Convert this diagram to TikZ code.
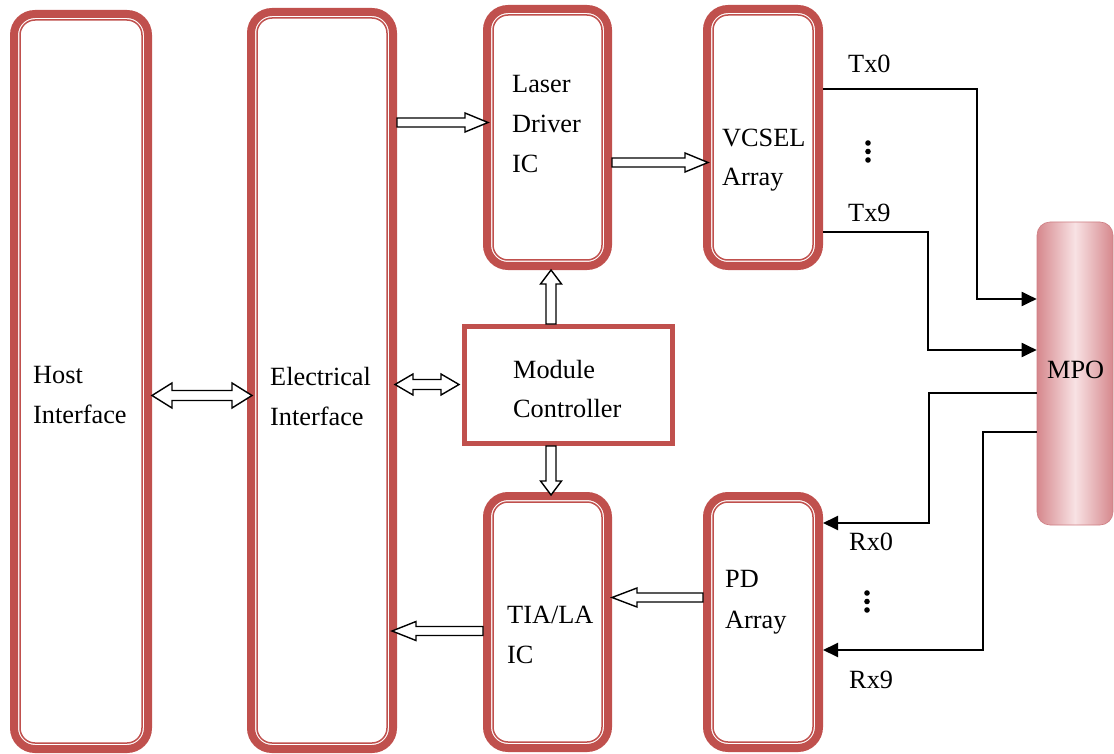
\documentclass[tikz,border=0pt]{standalone}
\usepackage{fontspec}
\setmainfont{Liberation Serif}
\usetikzlibrary{calc,arrows.meta}
\definecolor{boxred}{RGB}{192,80,77}
\definecolor{mpoedge}{RGB}{214,136,141}
\definecolor{mpomid}{RGB}{248,226,228}
\definecolor{mpoline}{RGB}{206,126,131}
\tikzset{
  dbox/.style={draw=boxred, line width=8pt, rounded corners=21pt, fill=white},
  innerline/.style={draw=boxred, line width=1.5pt, rounded corners=15pt},
  mcbox/.style={draw=boxred, line width=5pt, fill=white},
  mpobox/.style={draw=mpoline, line width=0.6pt, rounded corners=13pt, left color=mpoedge, right color=mpoedge, middle color=mpomid},
  lbl/.style={anchor=base west, inner sep=0pt, font=\fontsize{26.3pt}{30pt}\selectfont},
  sig/.style={line width=1.9pt, -{Triangle[length=15pt,width=14pt]}},
  dot/.style={fill=black},
  arw/.code args={#1/#2/#3}{\def\arS{#1pt}\def\arH{#2pt}\def\arL{#3pt}},
  arw=5/10/22,
  blk/.style={draw=black, fill=white, line width=1.4pt, line join=miter},
  barrow/.style={blk, to path={let \p1=(\tikztostart), \p2=(\tikztotarget),
      \n1={atan2((\y2)-(\y1),(\x2)-(\x1))} in
      ([shift={(\n1+90:\arS)}]\p1)
      -- ([shift={(\n1+180:\arL)},shift={(\n1+90:\arS)}]\p2)
      -- ([shift={(\n1+180:\arL)},shift={(\n1+90:\arH)}]\p2)
      -- (\p2)
      -- ([shift={(\n1+180:\arL)},shift={(\n1-90:\arH)}]\p2)
      -- ([shift={(\n1+180:\arL)},shift={(\n1-90:\arS)}]\p2)
      -- ([shift={(\n1-90:\arS)}]\p1) -- cycle}},
  barrowtwo/.style={blk, to path={let \p1=(\tikztostart), \p2=(\tikztotarget),
      \n1={atan2((\y2)-(\y1),(\x2)-(\x1))} in
      (\p1)
      -- ([shift={(\n1:\arL)},shift={(\n1+90:\arH)}]\p1)
      -- ([shift={(\n1:\arL)},shift={(\n1+90:\arS)}]\p1)
      -- ([shift={(\n1+180:\arL)},shift={(\n1+90:\arS)}]\p2)
      -- ([shift={(\n1+180:\arL)},shift={(\n1+90:\arH)}]\p2)
      -- (\p2)
      -- ([shift={(\n1+180:\arL)},shift={(\n1-90:\arH)}]\p2)
      -- ([shift={(\n1+180:\arL)},shift={(\n1-90:\arS)}]\p2)
      -- ([shift={(\n1:\arL)},shift={(\n1-90:\arS)}]\p1)
      -- ([shift={(\n1:\arL)},shift={(\n1-90:\arH)}]\p1)
      -- cycle}},
}
\begin{document}
\begin{tikzpicture}[x=1pt,y=-1pt]
\useasboundingbox (0,0) rectangle (1114,754);

% boxes
\node[dbox, minimum width=134pt, minimum height=735pt] (host)  at (81,381.5) {};
\node[dbox, minimum width=142pt, minimum height=737pt] (elec)  at (322,380.5) {};
\node[dbox, minimum width=121pt, minimum height=257pt] (laser) at (547.5,137.5) {};
\node[dbox, minimum width=112pt, minimum height=257pt] (vcsel) at (763,137.5) {};
\node[dbox, minimum width=121pt, minimum height=252pt] (tia)   at (547.5,622) {};
\node[dbox, minimum width=112pt, minimum height=252pt] (pd)    at (763,622) {};
\foreach \b in {host,elec,laser,vcsel,tia,pd}
  \draw[innerline] ([shift={(10pt,-10pt)}]\b.north west) rectangle ([shift={(-10pt,10pt)}]\b.south east);
\node[mcbox, minimum width=208pt, minimum height=117pt] (mc) at (568.5,385) {};
\node[mpobox, minimum width=76pt, minimum height=303pt] (mpo) at (1075,373.5) {};

% texts
\node[lbl] (hostA) at (33,383) {Host};
\node[lbl] (hostB) at (33,423) {Interface};
\node[lbl] (elecA) at (270,385) {Electrical};
\node[lbl] (elecB) at (270,425) {Interface};
\node[lbl] (laserA) at (512,93) {Laser};
\node[lbl] (laserB) at (512,133) {Driver};
\node[lbl] (laserC) at (512,173) {IC};
\node[lbl] (vcselA) at (722,147) {VCSEL};
\node[lbl] (vcselB) at (722,186) {Array};
\node[lbl] (mcA) at (513,378) {Module};
\node[lbl] (mcB) at (513,417) {Controller};
\node[lbl] (tiaA) at (507,623) {TIA/LA};
\node[lbl] (tiaB) at (507,663) {IC};
\node[lbl] (pdA) at (725,587) {PD};
\node[lbl] (pdB) at (725,628) {Array};
\node[lbl] (mpoT) at (1047,378) {MPO};
\node[lbl] (tx0) at (848,73) {Tx0};
\node[lbl] (tx9) at (848,222) {Tx9};
\node[lbl] (rx0) at (849,550) {Rx0};
\node[lbl] (rx9) at (849,688) {Rx9};

% dots
\foreach \yy in {143,151.5,160} \fill[dot] (868,\yy) circle (2.8pt);
\foreach \yy in {593,601.5,610} \fill[dot] (867,\yy) circle (2.8pt);

% block arrows
\draw[barrowtwo, arw=5/12.5/20] (host.east |- 0,395.5) to ([xshift=5pt]elec.west |- 0,395.5);
\draw[barrowtwo, arw=5/10.5/18] ([xshift=-2pt]elec.east |- 0,384.5) to ([xshift=-3pt]mc.west |- 0,384.5);
\draw[barrow, arw=4.5/9.5/23] (elec.east |- 0,122.5) to ([xshift=5pt]laser.west |- 0,122.5);
\draw[barrow, arw=4.5/9.5/23] (laser.east |- 0,162.5) to ([xshift=5pt]vcsel.west |- 0,162.5);
\draw[barrow, arw=5/10.5/14] (mc.north -| 551,0) to (laser.south -| 551,0);
\draw[barrow, arw=5/10.5/14] (mc.south -| 551,0) to ([yshift=-3pt]tia.north -| 551,0);
\draw[barrow, arw=4.5/9.5/25] (pd.west |- 0,597.5) to (tia.east |- 0,597.5);
\draw[barrow, arw=4.5/9.5/24] (tia.west |- 0,631) to ([xshift=-5pt]elec.east |- 0,631);

% signal lines
\draw[sig] (vcsel.east |- 0,89) -| (977,299) -- (mpo.west |- 0,299);
\draw[sig] (vcsel.east |- 0,232) -| (928,350) -- (mpo.west |- 0,350);
\draw[sig] (mpo.west |- 0,393) -| (929,523) -- (pd.east |- 0,523);
\draw[sig] (mpo.west |- 0,432) -| (983,650) -- (pd.east |- 0,650);
\end{tikzpicture}
\end{document}
